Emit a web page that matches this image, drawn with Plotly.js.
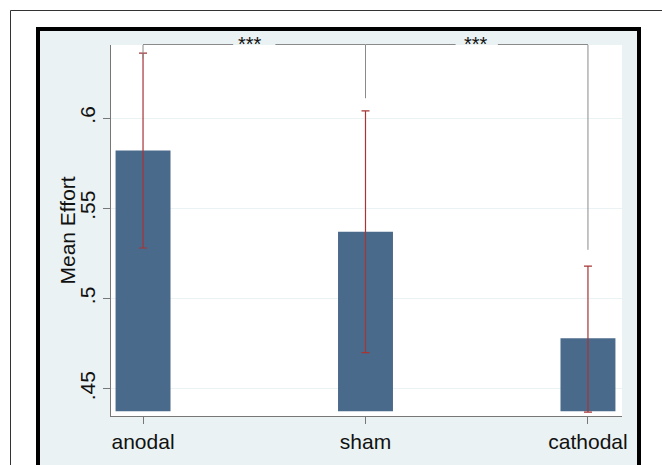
<!DOCTYPE html>
<html>
<head>
<meta charset="utf-8">
<script src="https://cdn.plot.ly/plotly-3.0.1.min.js"></script>
<style>
html,body{margin:0;padding:0;background:#fff;}
#chart{width:662px;height:465px;}
</style>
</head>
<body>
<div id="chart"></div>
<script>
// ---- data ----
var categories = ["anodal", "sham", "cathodal"];
var meanEffort = [0.582, 0.537, 0.478];
var ciUpper = [0.636, 0.604, 0.518];
var ciLower = [0.528, 0.470, 0.437];
var barBase = 0.4375;
var yTickVals = [0.45, 0.5, 0.55, 0.6];
var yTickText = [".45", ".5", ".55", ".6"];
var yTitle = "Mean Effort";
// significance brackets: [from index, to index]
var bracketPairs = [[0, 1], [1, 2]];
var bracketLabels = ["***", "***"];
var bracketDrop = [0.633, 0.611, 0.527];

// ---- layout helpers ----
var W = 662, H = 465, L = 111, R = 40, T = 45, B = 49;
var pw = W - L - R, ph = H - T - B;
function px(x) { return (x - L) / pw; }
function py(y) { return (H - B - y) / ph; }
var FONT = "Liberation Sans, Arial, sans-serif";

var barLengths = meanEffort.map(function (m) { return m - barBase; });
var errPlus = ciUpper.map(function (u, i) { return u - meanEffort[i]; });
var errMinus = ciLower.map(function (l, i) { return meanEffort[i] - l; });

var traces = [
  {
    type: "bar",
    x: categories,
    y: barLengths,
    base: barBase,
    width: 0.247,
    marker: { color: "#4A6A8C", line: { width: 0 } },
    hoverinfo: "skip"
  },
  {
    type: "scatter",
    mode: "markers",
    x: categories,
    y: meanEffort,
    marker: { opacity: 0, size: 1 },
    error_y: {
      type: "data",
      symmetric: false,
      array: errPlus,
      arrayminus: errMinus,
      color: "#A83434",
      thickness: 1.2,
      width: 4
    },
    hoverinfo: "skip"
  }
];

var shapes = [
  // outer thin frame
  { type: "line", xref: "paper", yref: "paper", x0: px(10.5), x1: px(670), y0: py(10.5), y1: py(10.5), line: { color: "#333", width: 1 }, layer: "below" },
  { type: "line", xref: "paper", yref: "paper", x0: px(10.5), x1: px(10.5), y0: py(10.5), y1: py(480), line: { color: "#333", width: 1 }, layer: "below" },
  // thick black graph frame with light fill
  { type: "rect", xref: "paper", yref: "paper", x0: px(38), x1: px(639), y0: py(29), y1: py(490), fillcolor: "#EAF2F3", line: { color: "#000", width: 4 }, layer: "below" },
  // white plot region
  { type: "rect", xref: "paper", yref: "paper", x0: 0, x1: 1, y0: 0, y1: 1, fillcolor: "#FFFFFF", line: { width: 0 }, layer: "below" }
];

var yRange = [0.4349, 0.6405];
var annotations = [];
var bracketY = py(44.5);
var gapHalf = 0.095;
bracketPairs.forEach(function (p, k) {
  var a = p[0], b = p[1], mid = (a + b) / 2;
  shapes.push({ type: "line", xref: "x", yref: "paper", x0: a, x1: mid - gapHalf, y0: bracketY, y1: bracketY, line: { color: "#8A8A8A", width: 1 } });
  shapes.push({ type: "line", xref: "x", yref: "paper", x0: mid + gapHalf, x1: b, y0: bracketY, y1: bracketY, line: { color: "#8A8A8A", width: 1 } });
  annotations.push({
    xref: "x", yref: "paper", x: mid + (k === 1 ? -0.005 : -0.02), y: bracketY,
    text: bracketLabels[k], showarrow: false, xanchor: "center", yanchor: "middle",
    font: { family: FONT, size: 20, color: "#111" }
  });
});
var yTop = yRange[0] + (yRange[1] - yRange[0]) * bracketY;
bracketDrop.forEach(function (d, i) {
  shapes.push({ type: "line", xref: "x", yref: "y", x0: i, x1: i, y0: yTop, y1: d, line: { color: "#8A8A8A", width: 1 } });
});

// y-axis title
annotations.push({
  xref: "paper", yref: "paper", x: px(67), y: 0.5, text: yTitle, textangle: -90,
  showarrow: false, xanchor: "center", yanchor: "middle",
  font: { family: FONT, size: 21, color: "#111" }
});

var layout = {
  width: W, height: H,
  margin: { l: L, r: R, t: T, b: B, pad: 0 },
  paper_bgcolor: "#FFFFFF",
  plot_bgcolor: "rgba(0,0,0,0)",
  showlegend: false,
  font: { family: FONT, size: 21, color: "#111" },
  xaxis: {
    type: "category",
    range: [-0.144, 2.153],
    showgrid: false,
    zeroline: false,
    showline: true, linecolor: "#777", linewidth: 1,
    ticks: "outside", ticklen: 7, tickcolor: "#777", tickwidth: 1,
    tickfont: { size: 21, color: "#111" }
  },
  yaxis: {
    range: yRange,
    tickvals: yTickVals,
    ticktext: yTickText,
    tickangle: -90,
    showgrid: true, gridcolor: "#EAF2F3", gridwidth: 1,
    zeroline: false,
    showline: true, linecolor: "#777", linewidth: 1,
    ticks: "outside", ticklen: 7, tickcolor: "#777", tickwidth: 1,
    tickfont: { size: 21, color: "#111" },
    automargin: false
  },
  shapes: shapes,
  annotations: annotations
};

Plotly.newPlot("chart", traces, layout, { displayModeBar: false, staticPlot: true });
</script>
</body>
</html>
